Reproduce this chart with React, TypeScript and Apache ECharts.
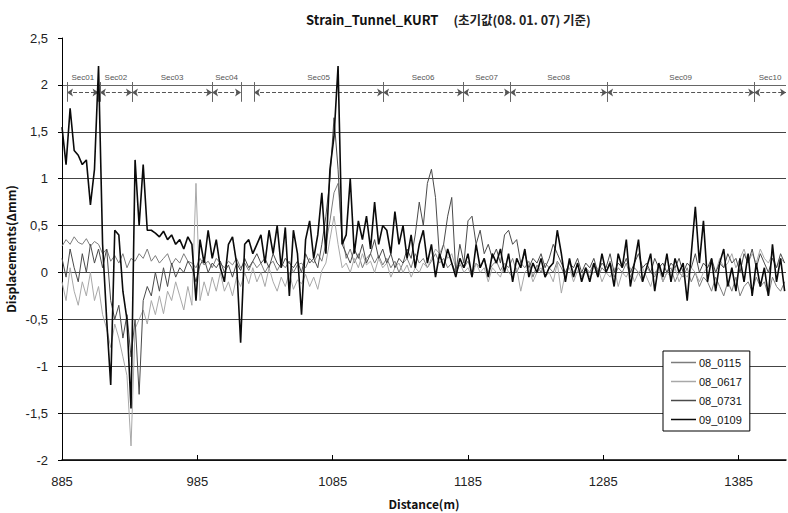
import React, { useEffect, useRef } from "react";
import * as echarts from "echarts";

// distance sampling (m)
const START_M = 885;
const END_M = 1420;
const STEP_M = 3;

const seriesNames = ["08_0115", "08_0617", "08_0731", "09_0109"];

const s080115 = [
  0.28, 0.35, 0.3, 0.38, 0.32, 0.3, 0.36, 0.28, 0.33, 0.3,
  0.2, 0.25, 0.12, 0.18, 0.1, 0.2, 0.05, 0.15, 0.12, 0.2,
  0.15, 0.25, 0.12, 0.18, 0.1, 0.15, 0.2, 0.08, 0.15, 0.1,
  0.2, 0.12, 0.1, 0.05, 0.15, 0.08, 0.12, 0.05, 0.15, 0.1,
  0.05, 0.12, 0.08, 0.15, 0.05, 0.1, 0.02, 0.12, 0.05, 0.1,
  0.0, 0.08, 0.12, 0.02, 0.1, 0.05, 0.12, 0.0, 0.08, 0.1,
  0.05, 0.15, 0.1, 0.2, 0.12, 0.3, 0.55, 0.85, 0.95, 0.4,
  0.15, 0.25, 0.1, 0.2, 0.05, 0.15, 0.2, 0.1, 0.18, 0.08,
  0.15, 0.05, 0.12, 0.0, 0.1, 0.15, 0.05, 0.2, 0.1, 0.15,
  0.05, 0.12, 0.2, 0.1, 0.15, 0.05, 0.1, 0.0, 0.08, 0.05,
  0.12, 0.0, 0.1, 0.05, 0.15, 0.0, 0.08, 0.12, 0.02, 0.1,
  0.05, 0.15, 0.0, 0.1, 0.05, 0.12, -0.05, 0.08, 0.0, 0.1,
  0.05, 0.0, 0.12, 0.05, -0.05, 0.1, 0.0, 0.08, -0.05, 0.05,
  0.0, 0.1, -0.05, 0.05, 0.0, 0.12, -0.05, 0.05, 0.0, 0.1,
  -0.05, 0.05, 0.0, -0.1, 0.05, 0.0, -0.05, 0.08, -0.1, 0.0,
  0.05, -0.1, 0.0, -0.05, 0.05, -0.1, 0.0, -0.15, -0.05, -0.1,
  -0.2, -0.05, -0.15, -0.25, -0.1, -0.2, -0.05, -0.25, -0.15, -0.1,
  -0.2, -0.05, -0.15, -0.1, -0.25, -0.05, -0.15, -0.2, -0.1,
];

const s080617 = [
  -0.1, -0.3, 0.05, -0.2, -0.35, -0.1, -0.25, 0.0, -0.3, -0.15,
  -0.45, -0.6, -0.8, -0.55, -0.7, -0.9, -1.1, -1.85, -0.6, -0.5,
  -0.4, -0.55, -0.3, -0.45, -0.25, -0.44, -0.2, -0.3, -0.1, -0.25,
  -0.4, -0.15, -0.35, 0.95, -0.3, -0.1, -0.25, -0.05, -0.2, 0.0,
  -0.2, -0.1, -0.25, -0.05, -0.15, 0.0, -0.12, 0.05, -0.1, 0.0,
  -0.15, 0.05, -0.1, -0.2, -0.05, -0.15, 0.0, -0.18, -0.08, -0.12,
  -0.02, -0.15, -0.05, -0.18, 0.02, 0.1, 0.35, 0.6, 0.3, 0.05,
  0.1, 0.0, 0.15, 0.05, 0.2, 0.08, 0.12, 0.0, 0.15, 0.05,
  0.1, -0.05, 0.05, 0.1, 0.0, 0.08, -0.05, 0.05, 0.0, 0.1,
  0.05, 0.15, 0.25, 0.2, 0.3, 0.15, 0.2, 0.05, 0.1, 0.0,
  0.05, -0.05, 0.1, 0.0, 0.05, -0.1, 0.05, 0.0, -0.05, 0.1,
  0.0, -0.05, 0.05, -0.2, 0.0, 0.05, -0.1, 0.0, 0.05, -0.05,
  0.0, -0.1, 0.1, -0.22, 0.0, 0.05, -0.1, 0.02, -0.05, 0.05,
  -0.05, 0.0, 0.05, -0.1, 0.0, -0.05, 0.05, -0.15, 0.0, -0.05,
  0.05, -0.1, 0.0, 0.05, -0.05, -0.15, 0.0, 0.05, -0.1, 0.0,
  -0.05, 0.05, -0.1, 0.0, -0.05, 0.05, 0.0, -0.1, 0.0, 0.05,
  0.1, 0.0, 0.15, 0.05, 0.1, 0.2, 0.05, 0.15, 0.25, 0.1,
  0.2, 0.1, 0.25, 0.15, 0.1, 0.2, 0.05, 0.15, 0.1,
];

const s080731 = [
  0.15, -0.05, 0.25, 0.05, -0.1, 0.2, 0.0, 0.3, 0.1, 0.25,
  0.05, 0.25, -0.3, -0.5, -0.35, -0.7, -0.45, -0.9, -0.5, -1.3,
  -0.3, -0.15, -0.25, 0.0, -0.2, 0.05, -0.15, 0.1, -0.05, 0.05,
  0.0, 0.12, 0.05, -0.1, 0.08, 0.15, 0.0, 0.1, 0.05, 0.12,
  0.0, 0.08, -0.05, 0.1, 0.02, 0.15, 0.05, 0.12, 0.2, 0.1,
  0.15, 0.05, 0.2, 0.1, 0.05, 0.15, 0.1, 0.05, 0.12, 0.0,
  0.2, 0.1, 0.15, 0.05, 0.3, 0.6, 1.0, 1.65, 1.1, 0.3,
  0.2, 0.1, 0.25, 0.15, 0.3, 0.1, 0.2, 0.35, 0.15, 0.25,
  0.1, 0.2, 0.05, 0.15, 0.1, 0.25, 0.15, 0.4, 0.75, 0.5,
  0.95, 1.1, 0.8, 0.15, 0.3, 0.6, 0.8, 0.0, 0.3, 0.1,
  0.55, 0.6, 0.3, 0.45, 0.2, 0.3, 0.15, 0.25, 0.1, 0.4,
  0.45, 0.3, 0.35, 0.1, 0.2, 0.05, 0.15, 0.1, 0.2, 0.05,
  0.15, 0.3, 0.2, 0.1, 0.0, 0.1, 0.05, 0.15, 0.0, 0.1,
  0.05, 0.15, 0.0, 0.1, 0.05, 0.2, 0.0, 0.1, 0.05, 0.15,
  0.0, 0.1, 0.2, 0.05, 0.1, 0.0, 0.15, 0.05, 0.1, 0.0,
  0.1, 0.05, 0.15, 0.0, 0.1, 0.05, 0.2, 0.0, 0.1, 0.05,
  0.15, 0.0, 0.1, 0.05, 0.2, 0.1, 0.15, 0.0, 0.2, 0.1,
  0.25, 0.05, 0.2, 0.1, 0.0, 0.15, 0.05, 0.2, 0.1,
];

const s090109 = [
  1.55, 1.15, 1.75, 1.3, 1.25, 1.15, 1.2, 0.72, 1.1, 2.2,
  0.3, -0.5, -1.2, 0.45, 0.4, -0.2, -0.5, -1.45, 1.2, 0.5,
  1.15, 0.45, 0.45, 0.42, 0.38, 0.44, 0.35, 0.4, 0.3, 0.35,
  0.25, 0.38, 0.3, -0.3, 0.35, 0.1, 0.45, 0.15, 0.35, 0.05,
  -0.1, 0.3, 0.38, 0.1, -0.75, 0.3, 0.35, 0.2, 0.3, 0.4,
  0.1, 0.45, 0.2, 0.5, 0.05, 0.48, -0.25, 0.45, 0.2, -0.45,
  0.35, 0.55, 0.15, 0.4, 0.85, 0.2, 1.1, 1.45, 2.2, 0.3,
  0.4, 1.0, 0.2, 0.55, 0.35, 0.6, 0.25, 0.75, 0.3, 0.5,
  0.45, 0.2, 0.65, 0.3, 0.5, 0.15, 0.4, 0.05, 0.3, 0.45,
  0.1, 0.3, -0.05, 0.2, 0.05, 0.25, 0.1, -0.05, 0.15, 0.05,
  0.2, -0.05, 0.3, 0.05, 0.15, -0.05, 0.2, 0.1, 0.25, 0.0,
  0.2, -0.1, 0.15, 0.05, 0.25, -0.05, 0.1, 0.0, 0.15, -0.05,
  0.05, 0.1, 0.45, 0.2, -0.1, 0.15, -0.05, 0.1, -0.1, 0.05,
  -0.1, 0.1, -0.05, 0.2, 0.0, 0.1, -0.15, 0.2, 0.05, 0.35,
  -0.15, 0.1, 0.35, -0.1, 0.05, 0.2, -0.2, 0.1, -0.05, 0.2,
  -0.1, 0.15, 0.0, 0.1, -0.3, 0.2, 0.7, 0.1, 0.55, -0.1,
  0.15, -0.2, 0.1, 0.25, -0.15, 0.05, -0.2, 0.15, -0.1, 0.2,
  -0.25, 0.1, -0.15, 0.05, -0.25, 0.3, -0.1, 0.15, -0.2,
];

// tunnel sections (m)
const secNames = ["Sec01", "Sec02", "Sec03", "Sec04", "Sec05", "Sec06", "Sec07", "Sec08", "Sec09", "Sec10"];
const secStart = [888.7, 913, 936.7, 995.9, 1026.9, 1122.3, 1181.4, 1216.1, 1287.8, 1396.5];
const secEnd = [912, 936.7, 995.9, 1017.3, 1122.3, 1181.4, 1216.1, 1287.8, 1396.5, 1420];

const yTicks = { min: -2, max: 2.5, interval: 0.5 };
const xTicks = { interval: 100 };

const lineColors = ["#7c7c7c", "#a8a8a8", "#4a4a4a", "#0a0a0a"];
const lineWidths = [1, 1, 1, 1.6];

export default function App() {
  const ref = useRef<HTMLDivElement>(null);

  useEffect(() => {
    const chart = echarts.init(ref.current as HTMLDivElement, null, { renderer: "svg" });
    const allValues = [s080115, s080617, s080731, s090109];
    const toData = (vals: number[]) =>
      vals.map((v, i) => [START_M + i * STEP_M - START_M, v]);

    const arrowY = 1.92;
    const markTop = 2.03;
    const markBottom = 1.82;
    const labelY = 2.08;

    const boundaries: number[] = [];
    secStart.forEach((s) => boundaries.push(s));
    secEnd.forEach((e) => { if (e < END_M) boundaries.push(e); });

    const option: any = {
      animation: false,
      backgroundColor: "#fff",
      title: {
        left: 301,
        top: 5,
        text: "{a|Strain_Tunnel_KURT}   {b|(초기값(08. 01. 07) 기준)}",
        textStyle: {
          rich: {
            a: { fontFamily: "Noto Sans CJK KR", fontWeight: "bold", fontSize: 13, color: "#111" },
            b: { fontFamily: "Noto Sans CJK KR", fontSize: 12.5, color: "#222" },
          },
        },
      },
      legend: {
        data: seriesNames.map((n, i) => ({
          name: n,
          icon: "rect",
          itemStyle: { color: lineColors[i] },
        })),
        orient: "vertical",
        left: 663,
        top: 351,
        itemWidth: 25,
        itemHeight: 1.5,
        itemGap: 8,
        padding: [6, 8, 6, 8],
        borderColor: "#000",
        borderWidth: 1,
        backgroundColor: "#fff",
        textStyle: { fontFamily: "Liberation Sans", fontSize: 11, color: "#111", padding: [0, 0, 0, -2] },
      },
      grid: { left: 62, right: 2, top: 38, bottom: 53, outerBoundsMode: "none", containLabel: false },
      xAxis: {
        type: "value",
        min: 0,
        max: END_M - START_M,
        interval: xTicks.interval,
        name: "Distance(m)",
        nameLocation: "middle",
        nameGap: 37,
        nameTextStyle: { fontFamily: "Noto Sans CJK KR", fontWeight: "bold", fontSize: 12, color: "#111" },
        axisLine: { show: true, onZero: false, lineStyle: { color: "#000", width: 1.5 } },
        axisTick: { show: true, inside: true, length: 5, lineStyle: { color: "#000" } },
        axisLabel: {
          margin: 15,
          showMaxLabel: false,
          fontFamily: "Liberation Sans",
          fontSize: 13,
          color: "#222",
          formatter: (v: number) => String(v + START_M),
        },
        splitLine: { show: false },
      },
      yAxis: {
        type: "value",
        min: yTicks.min,
        max: yTicks.max,
        interval: yTicks.interval,
        name: "Displacements(Δmm)",
        nameLocation: "middle",
        nameGap: 46,
        nameMoveOverlap: false,
        nameTextStyle: { fontFamily: "Noto Sans CJK KR", fontWeight: "bold", fontSize: 12, color: "#111" },
        axisLine: { show: true, onZero: false, lineStyle: { color: "#000", width: 1 } },
        axisTick: { show: true, length: 4, lineStyle: { color: "#000" } },
        axisLabel: {
          margin: 14,
          fontFamily: "Liberation Sans",
          fontSize: 13,
          color: "#222",
          formatter: (v: number) => String(v).replace(".", ","),
        },
        splitLine: {
          show: true,
          lineStyle: {
            color: ["#444", "#444", "#444", "#444", "#444", "#444", "#444", "#444", "#666", "rgba(0,0,0,0)"],
            width: 1,
          },
        },
      },
      series: [
        ...seriesNames.map((name, i) => ({
          name,
          type: "line",
          data: toData(allValues[i]),
          symbol: "none",
          showSymbol: false,
          lineStyle: { color: lineColors[i], width: lineWidths[i] },
          itemStyle: { color: lineColors[i] },
          z: 2 + i,
        })),
        {
          name: "sections",
          type: "line",
          data: [],
          symbol: "none",
          z: 10,
          markLine: {
            silent: true,
            animation: false,
            symbol: ["arrow", "arrow"],
            symbolSize: 6,
            label: { show: false },
            lineStyle: { color: "#555", type: "dashed", width: 1 },
            data: secNames.map((_, i) => [
              { coord: [secStart[i] - START_M, arrowY] },
              { coord: [secEnd[i] - START_M, arrowY] },
            ]),
          },
          markPoint: {
            silent: true,
            animation: false,
            symbol: "circle",
            symbolSize: 0,
            label: {
              show: true,
              position: "inside",
              formatter: "{b}",
              fontFamily: "Liberation Sans",
              fontSize: 8,
              color: "#555",
            },
            data: secNames.map((n, i) => ({
              name: n,
              coord: [(secStart[i] + secEnd[i]) / 2 - START_M, labelY],
            })),
          },
        },
        {
          name: "boundaries",
          type: "line",
          data: [],
          symbol: "none",
          z: 10,
          markLine: {
            silent: true,
            animation: false,
            symbol: ["none", "none"],
            label: { show: false },
            lineStyle: { color: "#666", type: "solid", width: 1 },
            data: boundaries.map((b) => [
              { coord: [b - START_M, markTop] },
              { coord: [b - START_M, markBottom] },
            ]),
          },
        },
      ],
    };
    chart.setOption(option);
    return () => chart.dispose();
  }, []);

  return (
    <div
      ref={ref}
      style={{ position: "fixed", left: 0, top: 0, width: 788, height: 513, background: "#fff" }}
    />
  );
}
